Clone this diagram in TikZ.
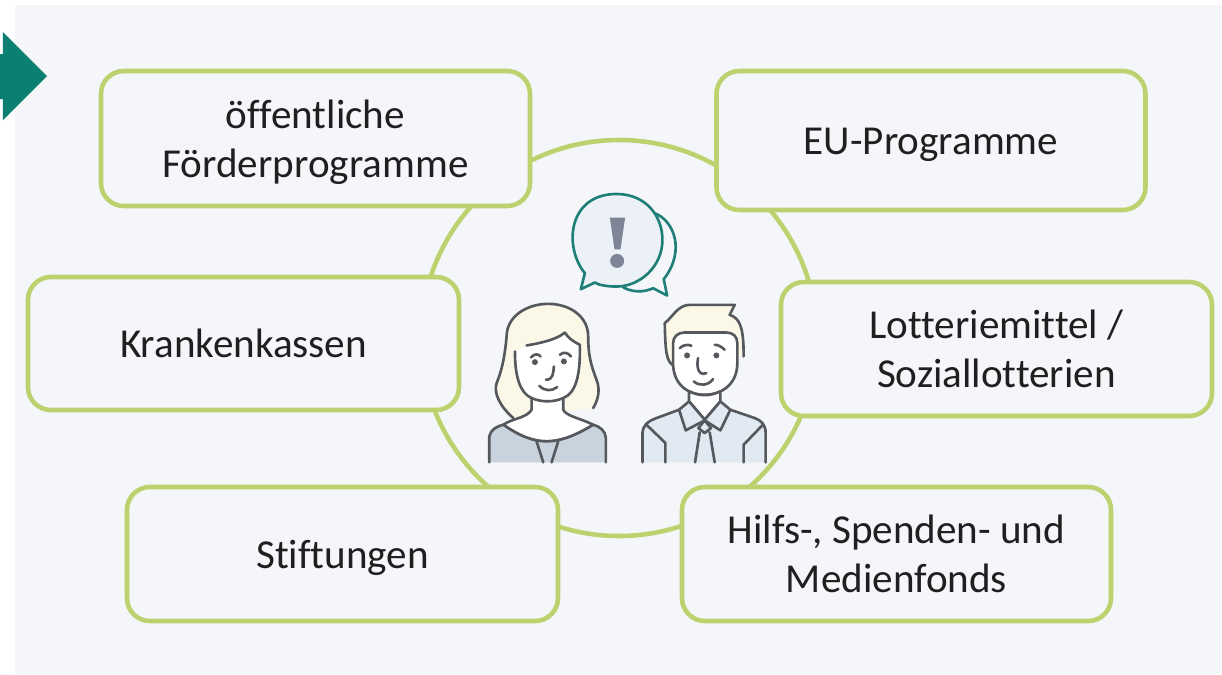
\documentclass[tikz,border=0pt]{standalone}
\usepackage{fontspec}
\setmainfont[Ligatures=CommonOff]{Carlito}
\definecolor{panelbg}{HTML}{F4F6F9}
\definecolor{boxgreen}{HTML}{BDD16F}
\definecolor{tealdark}{HTML}{0B7F71}
\definecolor{bubbleline}{HTML}{1F7F78}
\definecolor{inkgray}{HTML}{55595E}
\definecolor{haircream}{HTML}{FCF8E8}
\definecolor{jacketgray}{HTML}{C8D3DD}
\definecolor{shirtblue}{HTML}{E1EAF2}
\definecolor{markgray}{HTML}{7F8496}
\newlength{\pxlen}
\setlength{\pxlen}{0.1mm}
\newcommand{\lowered}[1]{\raisebox{-4\pxlen}[\height][\depth]{#1}}
\tikzset{
  fundbox/.style={draw=boxgreen, line width=1.3pt, rounded corners=6.5pt, fill=panelbg,
    minimum width=429\pxlen, minimum height=135\pxlen, align=center,
    font=\fontsize{11.7}{13.9}\selectfont, text=black!88, inner sep=0pt},
  ink/.style={draw=inkgray, line width=0.75pt, line cap=round, line join=round},
  bubble/.style={draw=bubbleline, line width=0.75pt, line join=round}
}
\begin{document}
\begin{tikzpicture}[x=0.1mm,y=-0.1mm]
\useasboundingbox (0,0) rectangle (1222,674);
\fill[white] (0,0) rectangle (1222,674);
\fill[panelbg] (15,5) rectangle (1222,674);
% arrow at the left edge
\fill[tealdark] (0,54) -- (3,54) -- (3,32) -- (47,76) -- (3,120) -- (3,99) -- (0,99) -- cycle;
% ring behind the boxes
\node[draw=boxgreen, line width=1.3pt, circle, minimum size=396\pxlen, inner sep=0pt] (ring) at (619,338) {};
% boxes
\node[fundbox, minimum height=135\pxlen] (foerder) at (315.5,138.5) {\lowered{öffentliche}\\\lowered{Förderprogramme}};
\node[fundbox, minimum height=139\pxlen] (eu) at (931,140.5) {\lowered{EU-Programme}};
\node[fundbox, minimum width=431\pxlen, minimum height=133\pxlen] (kassen) at (243.5,343.5) {Krankenkassen};
\node[fundbox, minimum width=431\pxlen, minimum height=134\pxlen] (lotto) at (996.5,349) {Lotteriemittel /\\Soziallotterien};
\node[fundbox, minimum width=431\pxlen, minimum height=134\pxlen] (stift) at (342.5,554) {\lowered{Stiftungen}};
\node[fundbox, minimum height=134\pxlen] (fonds) at (896.5,554) {Hilfs-, Spenden- und\\Medienfonds};
% speech bubbles
\begin{scope}[shift={(470,180)},x=0.0333mm,y=-0.0333mm]
\filldraw[bubble, fill=panelbg] (592,347) -- (582,298) .. controls (650,210) and (610,120) .. (555,100)
  -- (460,322) .. controls (500,345) and (540,330) .. (550,325) -- cycle;
\filldraw[bubble, fill=shirtblue!45!panelbg] (333,328) -- (345,280) .. controls (280,200) and (295,42) .. (440,42)
  .. controls (530,42) and (578,110) .. (578,180) .. controls (578,260) and (510,320) .. (440,320)
  .. controls (410,320) and (385,315) .. (375,308) -- cycle;
\fill[markgray] (420,113) -- (466,113) -- (452,208) -- (434,208) -- cycle;
\fill[markgray] (442,243) circle (21);
% woman
\filldraw[ink, fill=haircream] (130,715) .. controls (90,680) and (70,640) .. (80,610)
  .. controls (100,560) and (105,520) .. (110,470) .. controls (110,410) and (170,372) .. (235,372)
  .. controls (300,372) and (355,410) .. (355,470) .. controls (355,530) and (365,560) .. (380,600)
  .. controls (392,630) and (385,660) .. (370,685);
\filldraw[ink, fill=white] (135,515) .. controls (135,590) and (150,640) .. (185,655) -- (185,690)
  .. controls (170,715) and (130,715) .. (100,735) .. controls (150,770) and (190,785) .. (230,785)
  .. controls (280,785) and (330,760) .. (370,735) .. controls (330,715) and (290,710) .. (280,690) -- (280,655)
  .. controls (320,640) and (332,580) .. (330,495) .. controls (310,485) and (295,475) .. (285,458)
  .. controls (260,480) and (210,490) .. (170,497);
\draw[ink] (185,655) .. controls (215,668) and (250,668) .. (280,655);
\filldraw[ink, fill=jacketgray] (58,848) -- (58,770) .. controls (62,750) and (80,740) .. (100,735)
  .. controls (150,770) and (190,785) .. (230,785) .. controls (280,785) and (330,760) .. (370,735)
  .. controls (390,740) and (408,755) .. (408,775) -- (408,848);
\draw[ink] (200,785) -- (220,848) (265,785) -- (245,848);
\draw[ink] (183,533) .. controls (195,520) and (205,522) .. (212,530);
\draw[ink] (270,525) .. controls (280,515) and (295,518) .. (303,530);
\fill[inkgray] (195,547) circle (9) (282,545) circle (9);
\draw[ink] (252,560) .. controls (250,580) and (250,600) .. (228,600);
\draw[ink] (208,618) .. controls (225,635) and (245,635) .. (262,622);
% man
\filldraw[ink, fill=haircream] (612,558) .. controls (590,545) and (587,520) .. (585,430)
  .. controls (610,410) and (625,375) .. (660,375) -- (795,375) -- (780,405)
  .. controls (810,415) and (822,440) .. (822,530);
\filldraw[ink, fill=white] (610,490) .. controls (610,470) and (625,458) .. (645,458) -- (770,458)
  .. controls (790,458) and (803,470) .. (803,490) -- (803,550) .. controls (803,610) and (760,645) .. (705,645)
  .. controls (650,645) and (610,610) .. (610,550) -- cycle;
\filldraw[ink, fill=white] (658,635) -- (658,665) -- (705,720) -- (752,665) -- (752,635) .. controls (720,650) and (690,650) .. (658,635);
\filldraw[ink, fill=shirtblue] (518,848) -- (518,760) .. controls (520,735) and (535,725) .. (555,717)
  -- (628,690) -- (658,665) -- (705,720) -- (752,665) -- (782,690) -- (855,715)
  .. controls (875,722) and (888,735) .. (888,760) -- (888,848);
\draw[ink] (628,690) -- (648,752) -- (705,722) -- (752,752) -- (782,690);
\draw[ink] (705,722) -- (686,745) -- (705,760) -- (724,745) -- cycle;
\draw[ink] (690,758) -- (676,848) (720,758) -- (735,848);
\draw[ink] (530,735) -- (587,790) -- (587,848) (880,735) -- (822,795) -- (822,848);
\draw[ink] (630,505) .. controls (640,495) and (655,493) .. (665,498);
\draw[ink] (735,495) .. controls (745,495) and (755,500) .. (765,510);
\fill[inkgray] (652,527) circle (9) (740,527) circle (9);
\draw[ink] (685,535) .. controls (680,560) and (685,590) .. (710,580);
\draw[ink] (672,605) .. controls (690,620) and (715,618) .. (730,598);
\end{scope}
\end{tikzpicture}
\end{document}
